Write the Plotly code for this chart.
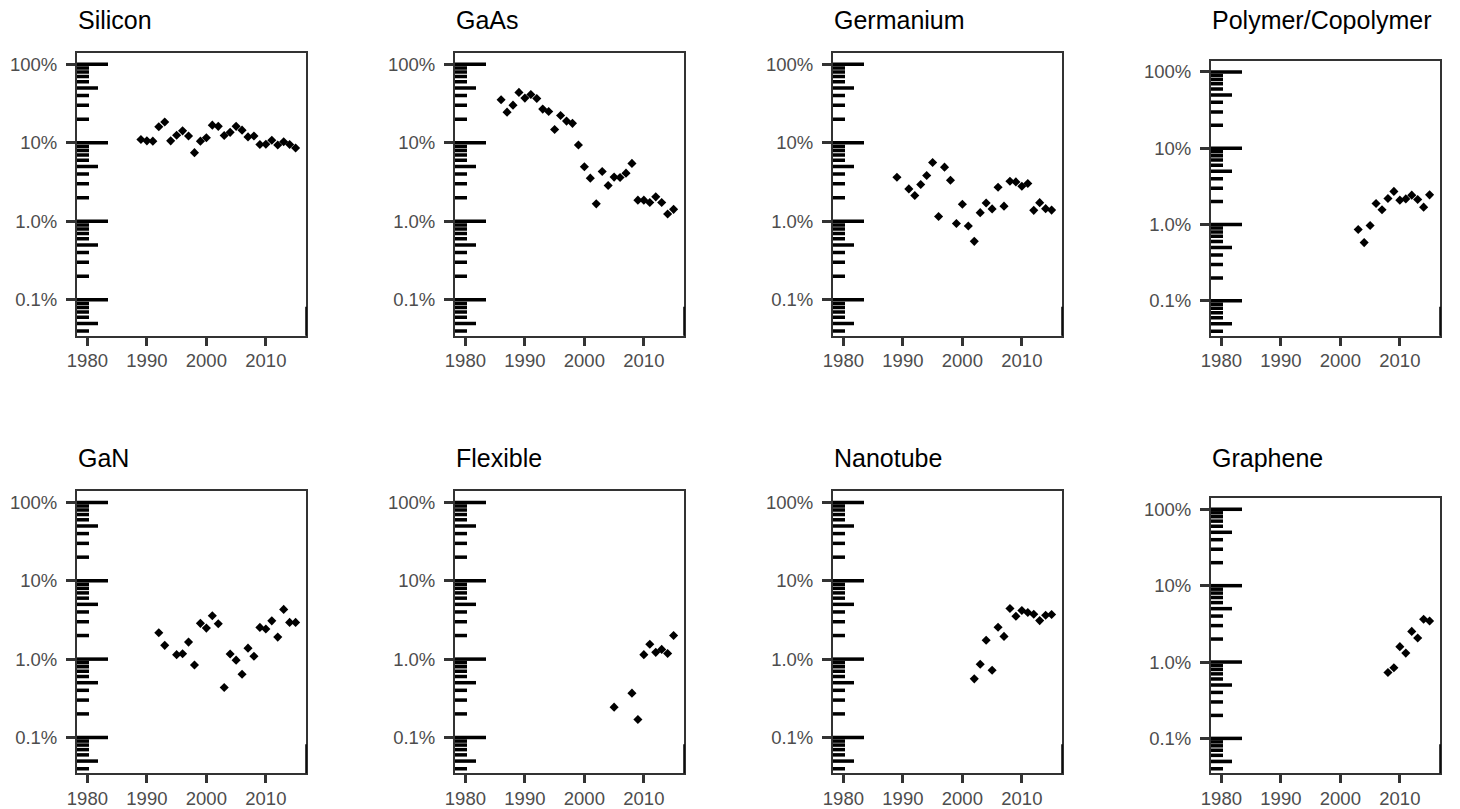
import math
import plotly.graph_objects as go

# ---------------- data (percent of publications) ----------------
panel_names = ["Silicon", "GaAs", "Germanium", "Polymer/Copolymer",
               "GaN", "Flexible", "Nanotube", "Graphene"]

silicon_years = list(range(1989, 2016))
silicon_pct = [11.0, 10.6, 10.5, 16.0, 18.4, 10.6, 12.5, 14.2, 12.2, 7.5, 10.5, 11.6, 16.8,
               16.2, 12.4, 13.6, 16.2, 14.5, 11.9, 12.2, 9.5, 9.6, 10.8, 9.4, 10.3, 9.5, 8.6]

gaas_years = list(range(1986, 2016))
gaas_pct = [35.3, 24.6, 30.2, 43.9, 37.1, 41.3, 36.7, 26.9, 25.1, 14.8, 22.3, 18.9, 17.7, 9.4,
            4.95, 3.55, 1.67, 4.32, 2.86, 3.66, 3.62, 4.11, 5.47, 1.86, 1.86, 1.74, 2.05, 1.74,
            1.24, 1.42]

germanium_years = [1989] + list(range(1991, 2016))
germanium_pct = [3.65, 2.59, 2.13, 2.94, 3.84, 5.62, 1.15, 4.90, 3.34, 0.94, 1.65, 0.87, 0.556,
                 1.29, 1.71, 1.44, 2.72, 1.56, 3.24, 3.18, 2.80, 3.03, 1.38, 1.73, 1.45, 1.39]

polymer_years = list(range(2003, 2016))
polymer_pct = [0.86, 0.58, 0.97, 1.89, 1.56, 2.20, 2.72, 2.09, 2.17, 2.43, 2.13, 1.69, 2.45]

gan_years = [1992, 1993] + list(range(1995, 2016))
gan_pct = [2.17, 1.50, 1.14, 1.17, 1.65, 0.84, 2.86, 2.49, 3.57, 2.83, 0.435, 1.16, 0.97, 0.64,
           1.38, 1.09, 2.54, 2.42, 3.08, 1.91, 4.31, 2.94, 2.94]

flexible_years = [2005, 2008, 2009, 2010, 2011, 2012, 2013, 2014, 2015]
flexible_pct = [0.244, 0.368, 0.170, 1.14, 1.55, 1.22, 1.33, 1.18, 2.00]

nanotube_years = list(range(2002, 2016))
nanotube_pct = [0.56, 0.86, 1.74, 0.72, 2.55, 1.95, 4.43, 3.53, 4.17, 3.94, 3.74, 3.10, 3.63, 3.71]

graphene_years = list(range(2008, 2016))
graphene_pct = [0.73, 0.84, 1.59, 1.31, 2.52, 2.06, 3.63, 3.44]

x_tick_vals = [1980, 1990, 2000, 2010]
y_tick_vals = [0.1, 1, 10, 100]
y_tick_text = ["0.1%", "1.0%", "10%", "100%"]

series = [
    (silicon_years, silicon_pct), (gaas_years, gaas_pct),
    (germanium_years, germanium_pct), (polymer_years, polymer_pct),
    (gan_years, gan_pct), (flexible_years, flexible_pct),
    (nanotube_years, nanotube_pct), (graphene_years, graphene_pct),
]

# ---------------- layout geometry (pixels) ----------------
W, H = 1460, 809
col_left = [77, 455, 833, 1211]
panel_w = 229
row_bottom = [335.7, 773.3]
row_top = [[52.7, 52.7, 52.7, 60.7], [490.8, 490.8, 490.8, 498.0]]
title_center_y = [19.5, 457.5]

x_range = [1978.25, 2016.75]
y_range = [-1.457, 2.148]

FONT = "Liberation Sans, Arial, Helvetica, sans-serif"
AX = "#333333"
TICKFONT = dict(family=FONT, size=18.5, color="#4d4d4d")

fig = go.Figure()
shapes = []
annotations = []
layout_axes = {}

# log-tick values inside the visible range
lo, hi = 10 ** y_range[0], 10 ** y_range[1]
logticks = []
for k in range(-3, 3):
    for m in range(1, 10):
        v = m * 10 ** k
        if lo <= v <= hi:
            kind = "long" if m == 1 else ("mid" if m == 5 else "short")
            logticks.append((v, kind))
tick_len_px = {"long": 30, "mid": 20, "short": 11}

for i, name in enumerate(panel_names):
    r, c = divmod(i, 4)
    n = i + 1
    sfx = "" if n == 1 else str(n)
    left = col_left[c]
    top = row_top[r][c]
    bottom = row_bottom[r]
    xd = [left / W, (left + panel_w) / W]
    yd = [1 - bottom / H, 1 - top / H]
    ph = bottom - top

    layout_axes["xaxis" + sfx] = dict(
        domain=xd, range=x_range, anchor="y" + sfx, automargin=False,
        tickmode="array", tickvals=x_tick_vals,
        ticks="outside", ticklen=8, tickwidth=3, tickcolor=AX,
        showgrid=False, zeroline=False,
        showline=True, mirror=True, linecolor=AX, linewidth=2,
        tickfont=TICKFONT, ticklabelstandoff=-1,
    )
    layout_axes["yaxis" + sfx] = dict(
        domain=yd, type="log", range=y_range, anchor="x" + sfx, automargin=False,
        tickmode="array", tickvals=y_tick_vals, ticktext=y_tick_text,
        ticks="outside", ticklen=9, tickwidth=3, tickcolor=AX,
        showgrid=False, zeroline=False,
        showline=True, mirror=True, linecolor=AX, linewidth=2,
        tickfont=TICKFONT, ticklabelstandoff=5,
    )

    yrs, vals = series[i]
    fig.add_trace(go.Scatter(
        x=yrs, y=vals, mode="markers",
        marker=dict(symbol="diamond", size=7, color="black", line=dict(width=0)),
        xaxis="x" + sfx, yaxis="y" + sfx, showlegend=False,
        hovertemplate="%{x}: %{y:.2f}%<extra>" + name + "</extra>",
    ))

    # annotation_logticks-like rug on the left side
    for v, kind in logticks:
        shapes.append(dict(
            type="line", xref=("x" + sfx + " domain"), yref=("y" + sfx),
            x0=0, x1=(tick_len_px[kind] + 1) / panel_w, y0=v, y1=v,
            line=dict(color="black", width=3.5), layer="above",
        ))
    # stray tick at bottom-right edge
    shapes.append(dict(
        type="line", xref=("x" + sfx + " domain"), yref=("y" + sfx + " domain"),
        x0=1, x1=1, y0=0, y1=29 / ph,
        line=dict(color="black", width=1.5), layer="above",
    ))

    annotations.append(dict(
        text=name, xref="paper", yref="paper",
        x=(left - 1.5) / W, y=1 - title_center_y[r] / H,
        xanchor="left", yanchor="middle", showarrow=False,
        font=dict(family=FONT, size=25, color="black"),
    ))

fig.update_layout(
    width=W, height=H, autosize=False,
    margin=dict(l=0, r=0, t=0, b=0),
    paper_bgcolor="white", plot_bgcolor="white",
    shapes=shapes, annotations=annotations,
    **layout_axes,
)

fig.write_html("out.html")
